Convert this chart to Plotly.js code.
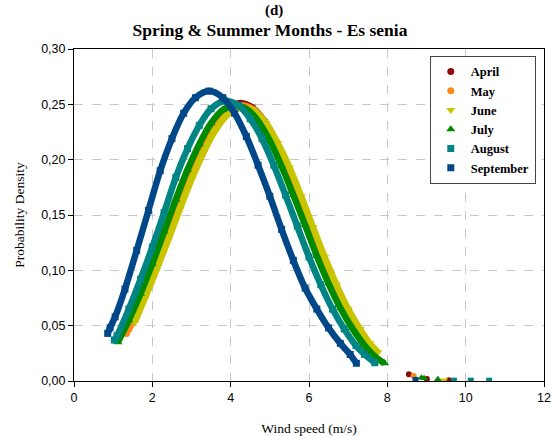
<!DOCTYPE html>
<html>
<head>
<meta charset="utf-8">
<script src="https://cdn.plot.ly/plotly-3.0.1.min.js"></script>
<style>
  html, body { margin: 0; padding: 0; background: #ffffff; }
  #chart { width: 555px; height: 436px; }
</style>
</head>
<body>
<div id="chart"></div>
<script>
// Weibull probability density of wind speed, Es senia, spring & summer months
const months = ["April", "May", "June", "July", "August", "September"];

// April
const aprilX = [1.39, 1.59, 1.88, 2.18, 2.48, 2.78, 3.07, 3.37, 3.67, 3.97, 4.25, 4.56, 4.86, 5.16, 5.45, 5.75, 6.05, 6.35, 6.64, 6.94, 7.24, 7.44, 7.62];
const aprilY = [0.047, 0.060, 0.085, 0.112, 0.140, 0.169, 0.195, 0.218, 0.236, 0.247, 0.251, 0.247, 0.235, 0.216, 0.192, 0.165, 0.137, 0.110, 0.084, 0.062, 0.044, 0.035, 0.027];
const aprilTailX = [8.55, 9.01, 9.57];
const aprilTailY = [0.006, 0.0018, 0.0006];

// May
const mayX = [1.34, 1.6, 1.9, 2.2, 2.5, 2.8, 3.1, 3.4, 3.7, 4.0, 4.28, 4.6, 4.9, 5.2, 5.5, 5.8, 6.1, 6.4, 6.7, 7.0, 7.3, 7.5, 7.68];
const mayY = [0.043, 0.060, 0.084, 0.111, 0.139, 0.167, 0.194, 0.217, 0.234, 0.245, 0.249, 0.245, 0.233, 0.214, 0.191, 0.164, 0.136, 0.109, 0.084, 0.062, 0.044, 0.034, 0.025];
const mayTailX = [8.67];
const mayTailY = [0.0045];

// June
const juneX = [1.55, 1.8, 2.1, 2.4, 2.7, 3.0, 3.3, 3.6, 3.9, 4.1, 4.32, 4.6, 4.9, 5.2, 5.5, 5.8, 6.1, 6.4, 6.7, 7.0, 7.3, 7.55, 7.76];
const juneY = [0.053, 0.074, 0.100, 0.127, 0.155, 0.182, 0.206, 0.226, 0.240, 0.245, 0.247, 0.244, 0.233, 0.215, 0.193, 0.167, 0.139, 0.112, 0.087, 0.065, 0.047, 0.034, 0.026];
const juneTailX = [9.45];
const juneTailY = [0.0006];

// July
const julyX = [1.12, 1.4, 1.7, 2.0, 2.3, 2.6, 2.9, 3.2, 3.5, 3.8, 4.12, 4.4, 4.7, 5.0, 5.3, 5.6, 5.9, 6.2, 6.5, 6.8, 7.1, 7.4, 7.72, 7.93];
const julyY = [0.035, 0.055, 0.079, 0.106, 0.135, 0.164, 0.191, 0.214, 0.233, 0.245, 0.249, 0.246, 0.235, 0.217, 0.194, 0.168, 0.141, 0.113, 0.088, 0.066, 0.048, 0.033, 0.021, 0.016];
const julyTailX = [8.87, 8.94, 9.29];
const julyTailY = [0.003, 0.0024, 0.0015];

// August
const augustX = [1.03, 1.1, 1.4, 1.7, 2.0, 2.3, 2.6, 2.9, 3.2, 3.5, 3.85, 4.2, 4.5, 4.8, 5.1, 5.4, 5.7, 6.0, 6.3, 6.6, 6.9, 7.2, 7.42, 7.68];
const augustY = [0.037, 0.041, 0.065, 0.092, 0.121, 0.152, 0.184, 0.210, 0.231, 0.246, 0.253, 0.249, 0.237, 0.219, 0.195, 0.168, 0.140, 0.112, 0.087, 0.065, 0.047, 0.032, 0.024, 0.0165];
const augustTailX = [9.70, 10.13, 10.60];
const augustTailY = [0.0003, 0.0003, 0.0003];

// September
const septemberX = [0.86, 0.92, 1.05, 1.3, 1.6, 1.9, 2.2, 2.5, 2.8, 3.1, 3.45, 3.8, 4.1, 4.4, 4.7, 5.0, 5.3, 5.6, 5.9, 6.2, 6.5, 6.8, 7.05, 7.21];
const septemberY = [0.043, 0.048, 0.058, 0.083, 0.118, 0.154, 0.190, 0.219, 0.242, 0.256, 0.262, 0.256, 0.242, 0.221, 0.195, 0.167, 0.137, 0.109, 0.084, 0.065, 0.048, 0.034, 0.024, 0.016];
const septemberTailX = [8.72];
const septemberTailY = [0.001];

const xTicks = [0, 2, 4, 6, 8, 10, 12];
const yTicks = [0, 0.05, 0.10, 0.15, 0.20, 0.25, 0.30];

const seriesX = [aprilX, mayX, juneX, julyX, augustX, septemberX];
const seriesY = [aprilY, mayY, juneY, julyY, augustY, septemberY];
const tailX = [aprilTailX, mayTailX, juneTailX, julyTailX, augustTailX, septemberTailX];
const tailY = [aprilTailY, mayTailY, juneTailY, julyTailY, augustTailY, septemberTailY];

const colors = ["#8B0A0A", "#FF8A14", "#C8C400", "#008A00", "#008484", "#00478A"];
const symbols = ["circle", "circle", "triangle-down", "triangle-up", "square", "square"];
const sizes = [6, 6, 7, 7, 6, 6];

const serif = "'Liberation Serif', 'Times New Roman', serif";
const sans = "'Liberation Sans', Arial, sans-serif";

const traces = [];
months.forEach((m, i) => {
  // dense band of the fitted curve
  traces.push({
    x: seriesX[i], y: seriesY[i], type: "scatter", mode: "lines",
    line: { color: colors[i], width: 6.5, shape: "spline", smoothing: 0.9 },
    showlegend: false, hoverinfo: "skip"
  });
  // sample markers along the curve (legend entry)
  traces.push({
    x: seriesX[i], y: seriesY[i], type: "scatter", mode: "markers", name: m,
    marker: { color: colors[i], symbol: symbols[i], size: sizes[i] + 1 }
  });
  // isolated high-speed samples
  traces.push({
    x: tailX[i], y: tailY[i], type: "scatter", mode: "markers",
    marker: { color: colors[i], symbol: symbols[i], size: sizes[i] },
    showlegend: false
  });
});

const layout = {
  width: 555, height: 436,
  margin: { l: 74, r: 11, t: 49, b: 55, pad: 0 },
  paper_bgcolor: "#ffffff", plot_bgcolor: "#ffffff",
  separators: ", ",
  showlegend: true,
  title: {
    text: "Spring & Summer Months - Es senia",
    font: { family: serif, size: 17.5, color: "#000", weight: "bold" },
    x: 0.4865, xanchor: "center", y: 0.931, yanchor: "middle"
  },
  annotations: [{
    text: "(d)", xref: "paper", yref: "paper", x: 0.425, y: 1.083,
    xanchor: "center", yanchor: "bottom", showarrow: false,
    font: { family: serif, size: 15, color: "#000", weight: "bold" }
  }],
  xaxis: {
    range: [0, 12], tickvals: xTicks, ticktext: xTicks.map(String),
    showgrid: true, gridcolor: "#C8C8C8", griddash: "dash", gridwidth: 1,
    zeroline: false, showline: true, linecolor: "#000", linewidth: 1, mirror: true,
    ticks: "outside", ticklen: 5, tickcolor: "#000",
    tickfont: { family: sans, size: 12.5, color: "#000" },
    title: { text: "Wind speed (m/s)", font: { family: serif, size: 13.5, color: "#000" }, standoff: 20 }
  },
  yaxis: {
    range: [0, 0.30], tickvals: yTicks, tickformat: ".2f",
    showgrid: true, gridcolor: "#C8C8C8", griddash: "dash", gridwidth: 1,
    zeroline: false, showline: true, linecolor: "#000", linewidth: 1, mirror: true,
    ticks: "outside", ticklen: 5, tickcolor: "#000",
    tickfont: { family: sans, size: 12.5, color: "#000" },
    title: { text: "Probability Density", font: { family: serif, size: 13.5, color: "#000" }, standoff: 13 }
  },
  legend: {
    x: 0.757, y: 0.979, xanchor: "left", yanchor: "top",
    bgcolor: "#ffffff", bordercolor: "#444", borderwidth: 1,
    font: { family: serif, size: 12.5, color: "#000", weight: "bold" },
    tracegroupgap: 0, itemwidth: 30
  }
};

Plotly.newPlot("chart", traces, layout, { staticPlot: true, displayModeBar: false });
</script>
</body>
</html>
